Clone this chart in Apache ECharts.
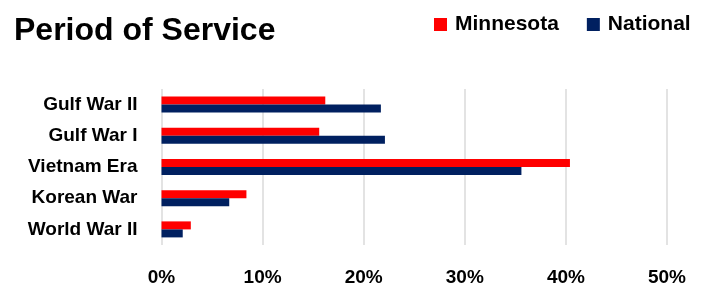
<!DOCTYPE html>
<html>
<head>
<meta charset="utf-8">
<script src="https://cdn.jsdelivr.net/npm/echarts@6/dist/echarts.min.js"></script>
<style>
  html, body { margin: 0; padding: 0; background: #fff; }
  #chart { width: 708px; height: 288px; }
</style>
</head>
<body>
<div id="chart"></div>
<script>
// categories bottom -> top
var periods = ['World War II', 'Korean War', 'Vietnam Era', 'Gulf War I', 'Gulf War II'];
var minnesota = [2.9, 8.4, 40.4, 15.6, 16.2];
var national = [2.1, 6.7, 35.6, 22.1, 21.7];
var ticks = [0, 10, 20, 30, 40, 50];

var myChart = echarts.init(document.getElementById('chart'));
var font = '"Liberation Sans", Arial, sans-serif';

var option = {
  backgroundColor: '#fff',
  animation: false,
  title: {
    text: 'Period of Service',
    left: 9,
    top: 10,
    textStyle: {
      fontFamily: font,
      fontSize: 32,
      fontWeight: 'bold',
      color: '#000'
    }
  },
  legend: {
    left: 429,
    top: 9,
    itemWidth: 13,
    itemHeight: 13,
    itemGap: 28,
    icon: 'rect',
    textStyle: {
      fontFamily: font,
      fontSize: 21,
      fontWeight: 'bold',
      color: '#000',
      padding: [0, 0, 0, 3]
    },
    data: ['Minnesota', 'National']
  },
  grid: {
    left: 161.5,
    right: 41,
    top: 89,
    bottom: 43,
    containLabel: false
  },
  xAxis: {
    type: 'value',
    min: ticks[0],
    max: ticks[ticks.length - 1],
    interval: 10,
    axisLine: { show: false },
    axisTick: { show: false },
    splitLine: { lineStyle: { color: '#dadada', width: 1.5 } },
    axisLabel: {
      margin: 23,
      fontFamily: font,
      fontSize: 19,
      fontWeight: 'bold',
      color: '#000',
      formatter: '{value}%'
    }
  },
  yAxis: {
    type: 'category',
    data: periods,
    axisLine: { show: false },
    axisTick: { show: false },
    axisLabel: {
      margin: 24,
      fontFamily: font,
      fontSize: 19,
      fontWeight: 'bold',
      color: '#000'
    }
  },
  series: [{
    name: 'Minnesota',
    type: 'bar',
    barWidth: 8,
    barGap: '0%',
    itemStyle: { color: '#ff0000' },
    data: minnesota
  }, {
    name: 'National',
    type: 'bar',
    barWidth: 8,
    barGap: '0%',
    itemStyle: { color: '#002060' },
    data: national
  }]
};

myChart.setOption(option);

window.addEventListener('resize', function () {
  myChart.resize();
});
</script>
</body>
</html>
